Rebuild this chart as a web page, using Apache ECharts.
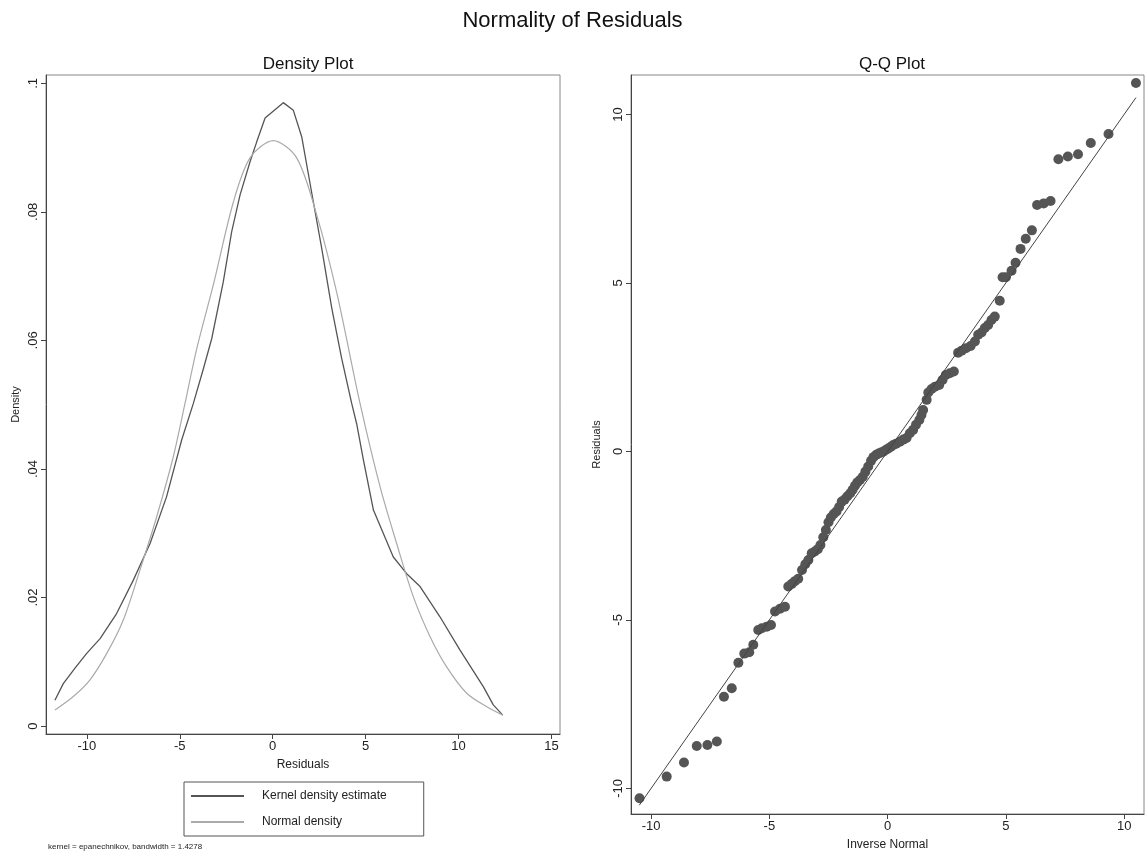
<!DOCTYPE html>
<html>
<head>
<meta charset="utf-8">
<title>Normality of Residuals</title>
<script src="https://cdn.jsdelivr.net/npm/echarts@6.0.0/dist/echarts.min.js"></script>
<style>
    html, body { margin: 0; padding: 0; background: #fff; }
    #Root { width: 1145px; height: 856px; }
</style>
</head>
<body>
<div id="Root"></div>
<script>
// kernel density estimate [residual, density]
let kernelDensity = [
    [-11.72, 0.0040], [-11.27, 0.0066], [-10.64, 0.0090], [-10.01, 0.0113], [-9.29, 0.0136],
    [-8.40, 0.0175], [-7.50, 0.0227], [-6.60, 0.0284], [-5.71, 0.0357], [-4.90, 0.0445],
    [-4.27, 0.0502], [-3.73, 0.0556], [-3.28, 0.0603], [-2.66, 0.0691], [-2.21, 0.0769],
    [-1.76, 0.0826], [-1.22, 0.0878], [-0.86, 0.0909], [-0.41, 0.0946], [0.57, 0.0970],
    [1.11, 0.0958], [1.56, 0.0917], [2.19, 0.0815], [2.64, 0.0743], [3.18, 0.0650],
    [3.71, 0.0572], [4.25, 0.0502], [4.52, 0.0470], [4.88, 0.0414], [5.42, 0.0336],
    [6.49, 0.0263], [7.21, 0.0237], [7.93, 0.0217], [9.00, 0.0170], [10.08, 0.0118],
    [11.34, 0.0061], [11.87, 0.0033], [12.38, 0.0017]
]

// normal density [residual, density]
let normalDensity = [
    [-11.72, 0.0025], [-10.73, 0.0046], [-9.83, 0.0072], [-8.93, 0.0113], [-8.04, 0.0165],
    [-7.14, 0.0243], [-6.24, 0.0326], [-5.35, 0.0419], [-4.72, 0.0502], [-4.09, 0.0587],
    [-3.20, 0.0686], [-2.12, 0.0815], [-1.22, 0.0884], [0.03, 0.0911], [1.29, 0.0884],
    [2.37, 0.0795], [3.44, 0.0675], [4.70, 0.0502], [5.78, 0.0372], [6.67, 0.0284],
    [7.57, 0.0201], [8.47, 0.0139], [9.36, 0.0092], [10.44, 0.0051], [11.52, 0.0030],
    [12.38, 0.0017]
]

// Q-Q points [inverse normal, residual]
let qqPoints = [
    [-10.49, -10.29], [-9.34, -9.65], [-8.61, -9.23], [-8.07, -8.74], [-7.62, -8.71],
    [-7.22, -8.61], [-6.92, -7.28], [-6.59, -7.03], [-6.31, -6.27], [-6.06, -6.00],
    [-5.85, -5.96], [-5.68, -5.74], [-5.47, -5.30], [-5.32, -5.25], [-5.11, -5.20],
    [-4.93, -5.15], [-4.76, -4.75], [-4.55, -4.67], [-4.34, -4.61], [-4.20, -4.01],
    [-4.05, -3.93], [-3.92, -3.85], [-3.78, -3.78], [-3.62, -3.52], [-3.48, -3.35],
    [-3.35, -3.22], [-3.21, -3.02], [-3.08, -2.97], [-2.95, -2.90], [-2.84, -2.78],
    [-2.72, -2.55], [-2.61, -2.33], [-2.50, -2.10], [-2.40, -1.96], [-2.28, -1.86],
    [-2.16, -1.78], [-2.05, -1.65], [-1.94, -1.49], [-1.82, -1.43], [-1.70, -1.33],
    [-1.58, -1.24], [-1.48, -1.14], [-1.38, -1.02], [-1.28, -0.92], [-1.17, -0.85],
    [-1.05, -0.75], [-0.94, -0.60], [-0.82, -0.45], [-0.70, -0.28], [-0.60, -0.17],
    [-0.48, -0.10], [-0.38, -0.06], [-0.28, -0.03], [-0.19, -0.01], [-0.08, 0.04],
    [0.03, 0.09], [0.14, 0.14], [0.24, 0.19], [0.36, 0.23], [0.52, 0.29],
    [0.66, 0.35], [0.80, 0.40], [0.94, 0.54], [1.08, 0.64], [1.20, 0.79],
    [1.34, 0.93], [1.43, 1.08], [1.50, 1.23], [1.65, 1.53], [1.72, 1.75],
    [1.86, 1.85], [2.00, 1.92], [2.18, 1.97], [2.32, 2.12], [2.46, 2.27],
    [2.63, 2.32], [2.80, 2.37], [2.98, 2.93], [3.13, 2.99], [3.31, 3.06],
    [3.51, 3.13], [3.69, 3.26], [3.83, 3.46], [3.97, 3.53], [4.11, 3.66],
    [4.25, 3.75], [4.39, 3.90], [4.53, 4.00], [4.74, 4.47], [4.86, 5.17],
    [5.00, 5.17], [5.24, 5.36], [5.41, 5.60], [5.62, 6.01], [5.84, 6.31],
    [6.10, 6.56], [6.32, 7.31], [6.60, 7.36], [6.89, 7.43], [7.22, 8.67],
    [7.62, 8.75], [8.05, 8.82], [8.59, 9.15], [9.34, 9.42], [10.50, 10.93]
]

// reference line y = x, from lowest to highest inverse normal
let refLineEnds = [-10.5, 10.5]

// tick labels
let densityTicks = [0, 0.02, 0.04, 0.06, 0.08, 0.1]
let residualTicks = [-10, -5, 0, 5, 10, 15]
let qqTicks = [-10, -5, 0, 5, 10]

let FONT = "'Liberation Sans', Arial, Helvetica, sans-serif"

function stataDecimal(v) {
    if (v === 0) return '0'
    return String(+v.toFixed(2)).replace(/^0\./, '.')
}

function makeAxis(gridIndex, min, max, ticks, name, nameGap, isY, formatter) {
    return {
        type: 'value',
        gridIndex: gridIndex,
        min: min,
        max: max,
        name: name,
        nameLocation: 'middle',
        nameGap: nameGap,
        nameTextStyle: { fontFamily: FONT, fontSize: isY ? 11 : 12, color: '#222' },
        splitLine: { show: false },
        axisLine: { show: true, onZero: false, lineStyle: { color: '#444', width: 1 } },
        axisTick: { show: true, length: 5, customValues: ticks, lineStyle: { color: '#444' } },
        axisLabel: {
            customValues: ticks,
            fontFamily: FONT,
            fontSize: 13,
            color: '#222',
            margin: 6,
            rotate: isY ? 90 : 0,
            formatter: formatter || (v => String(v))
        }
    }
}

let chart = echarts.init(document.getElementById('Root'), null, { renderer: 'canvas' })

let option = {
    backgroundColor: '#fff',
    animation: false,
    title: [
        { text: 'Normality of Residuals', left: 'center', top: 5,
          textStyle: { fontFamily: FONT, fontSize: 22, fontWeight: 'normal', color: '#111' } },
        { text: 'Density Plot', left: 303, textAlign: 'center', top: 51,
          textStyle: { fontFamily: FONT, fontSize: 17, fontWeight: 'normal', color: '#111' } },
        { text: 'Q-Q Plot', left: 887, textAlign: 'center', top: 51,
          textStyle: { fontFamily: FONT, fontSize: 17, fontWeight: 'normal', color: '#111' } }
    ],
    grid: [
        { left: 46, top: 75, width: 514, height: 659, show: true, borderColor: '#888', borderWidth: 1 },
        { left: 631, top: 75, width: 513, height: 739, show: true, borderColor: '#888', borderWidth: 1 }
    ],
    xAxis: [
        makeAxis(0, -12.2, 15.46, residualTicks, 'Residuals', 25, false),
        makeAxis(1, -10.85, 10.84, qqTicks, 'Inverse Normal', 25, false)
    ],
    yAxis: [
        makeAxis(0, -0.00124, 0.1013, densityTicks, 'Density', 25, true, stataDecimal),
        makeAxis(1, -10.76, 11.17, qqTicks, 'Residuals', 29, true)
    ],
    legend: {
        orient: 'vertical',
        left: 184,
        top: 782,
        data: ['Kernel density estimate', 'Normal density'],
        borderColor: '#555',
        borderWidth: 1,
        padding: [8, 37, 8, 6],
        itemGap: 14,
        itemWidth: 53,
        itemHeight: 12,
        itemStyle: { opacity: 0 },
        textStyle: { fontFamily: FONT, fontSize: 12, color: '#222', padding: [0, 0, 0, 13] }
    },
    graphic: [
        { type: 'text', left: 48, top: 843,
          style: { text: 'kernel = epanechnikov, bandwidth = 1.4278', font: '8px ' + FONT, fill: '#222' } }
    ],
    series: [
        {
            name: 'Kernel density estimate',
            type: 'line',
            xAxisIndex: 0,
            yAxisIndex: 0,
            data: kernelDensity,
            symbol: 'none',
            lineStyle: { color: '#555', width: 1.3 },
            itemStyle: { color: '#555' }
        },
        {
            name: 'Normal density',
            type: 'line',
            xAxisIndex: 0,
            yAxisIndex: 0,
            data: normalDensity,
            smooth: 0.3,
            symbol: 'none',
            lineStyle: { color: '#aaa', width: 1.2 },
            itemStyle: { color: '#aaa' }
        },
        {
            name: 'Reference',
            type: 'line',
            xAxisIndex: 1,
            yAxisIndex: 1,
            data: refLineEnds.map(v => [v, v]),
            symbol: 'none',
            lineStyle: { color: '#444', width: 1 },
            z: 3
        },
        {
            name: 'Residuals',
            type: 'scatter',
            xAxisIndex: 1,
            yAxisIndex: 1,
            data: qqPoints,
            symbol: 'circle',
            symbolSize: 10,
            itemStyle: { color: '#555', opacity: 1 },
            z: 2
        }
    ]
}

chart.setOption(option)
</script>
</body>
</html>
